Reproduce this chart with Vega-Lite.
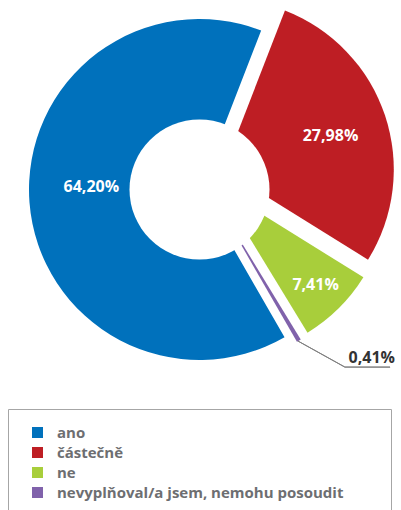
{
  "$schema": "https://vega.github.io/schema/vega-lite/v6.json",
  "padding": 0,
  "background": "white",
  "data": {
    "values": [
      {"cat": "ano", "pct": 64.20, "label": "64,20%", "ord": 4},
      {"cat": "částečně", "pct": 27.98, "label": "27,98%", "ord": 1},
      {"cat": "ne", "pct": 7.41, "label": "7,41%", "ord": 2},
      {"cat": "nevyplňoval/a jsem, nemohu posoudit", "pct": 0.41, "label": "0,41%", "ord": 3}
    ]
  },
  "spacing": 30,
  "center": true,
  "bounds": "flush",
  "vconcat": [
    {
      "width": 399,
      "height": 379,
      "layer": [
        {
          "transform": [
            {"stack": "pct", "groupby": [], "sort": [{"field": "ord"}], "as": ["t0", "t1"]}
          ],
          "encoding": {
            "color": {
              "field": "cat",
              "type": "nominal",
              "scale": {
                "domain": ["ano", "částečně", "ne", "nevyplňoval/a jsem, nemohu posoudit"],
                "range": ["#0071bc", "#be1e24", "#a8ce3b", "#8062ab"]
              },
              "legend": null
            }
          },
          "layer": [
            {
              "transform": [{"filter": "datum.ord === 4"}],
              "mark": {"type": "arc", "radius": 170.5},
              "encoding": {
                "theta": {"field": "t0", "type": "quantitative", "scale": {"domain": [0, 100], "range": [0.370, 6.6532]}},
                "theta2": {"field": "t1"}
              }
            },
            {
              "transform": [{"filter": "datum.ord === 1"}],
              "mark": {"type": "arc", "radius": 170.5, "xOffset": 23.8, "yOffset": -20},
              "encoding": {
                "theta": {"field": "t0", "type": "quantitative", "scale": {"domain": [0, 100], "range": [0.370, 6.6532]}},
                "theta2": {"field": "t1"}
              }
            },
            {
              "transform": [{"filter": "datum.ord === 2"}],
              "mark": {"type": "arc", "radius": 170.5, "xOffset": 19.2, "yOffset": -2.3},
              "encoding": {
                "theta": {"field": "t0", "type": "quantitative", "scale": {"domain": [0, 100], "range": [0.370, 6.6532]}},
                "theta2": {"field": "t1"}
              }
            },
            {
              "transform": [{"filter": "datum.ord === 3"}],
              "mark": {"type": "arc", "radius": 170.5, "xOffset": 12.4, "yOffset": 4.5},
              "encoding": {
                "theta": {"field": "t0", "type": "quantitative", "scale": {"domain": [0, 100], "range": [0.370, 6.6532]}},
                "theta2": {"field": "t1"}
              }
            }
          ]
        },
        {
          "data": {"values": [{"hole": 1}]},
          "mark": {"type": "arc", "radius": 70, "theta": 0, "theta2": 6.2832, "color": "white"},
          "encoding": {}
        },
        {
          "encoding": {
            "theta": {"field": "pct", "type": "quantitative", "stack": true, "scale": {"domain": [0, 100], "range": [0.370, 6.6532]}},
            "order": {"field": "ord"},
            "detail": {"field": "cat"}
          },
          "layer": [
            {
              "mark": {"type": "text", "radius": 108.5, "dy": -10.5, "fontSize": 16, "fontWeight": "bold", "color": "white"},
              "encoding": {
                "text": {"condition": {"test": "datum.ord === 4", "field": "label", "type": "nominal"}, "value": ""}
              }
            },
            {
              "mark": {"type": "text", "radius": 113, "dy": 2, "xOffset": 23.8, "yOffset": -20, "fontSize": 16, "fontWeight": "bold", "color": "white"},
              "encoding": {
                "text": {"condition": {"test": "datum.ord === 1", "field": "label", "type": "nominal"}, "value": ""}
              }
            },
            {
              "mark": {"type": "text", "radius": 137.7, "xOffset": 19.2, "yOffset": -2.3, "fontSize": 16, "fontWeight": "bold", "color": "white"},
              "encoding": {
                "text": {"condition": {"test": "datum.ord === 2", "field": "label", "type": "nominal"}, "value": ""}
              }
            },
            {
              "mark": {"type": "text", "radius": 190, "dx": 63, "dy": 0.6, "xOffset": 12.4, "yOffset": 4.5, "fontSize": 16, "fontWeight": "bold", "color": "#333333"},
              "encoding": {
                "text": {"condition": {"test": "datum.ord === 3", "field": "label", "type": "nominal"}, "value": ""}
              }
            }
          ]
        },
        {
          "transform": [{"filter": "datum.ord === 3"}],
          "mark": {"type": "arc", "theta": 2.0769, "theta2": 2.0779, "radius": 153.7, "radius2": 100, "xOffset": 11, "yOffset": 103, "filled": false, "color": "#808080", "strokeWidth": 1},
          "encoding": {}
        },
        {
          "transform": [{"filter": "datum.ord === 3"}],
          "mark": {"type": "arc", "theta": 1.5708, "theta2": 1.5718, "radius": 190.5, "radius2": 145.5, "yOffset": 177.5, "filled": false, "color": "#808080", "strokeWidth": 1},
          "encoding": {}
        }
      ]
    },
    {
      "width": 383,
      "height": 110,
      "view": {"stroke": "#a6a6a6", "strokeWidth": 1},
      "encoding": {
        "y": {
          "field": "cat",
          "type": "nominal",
          "scale": {
            "type": "point",
            "padding": 0,
            "domain": ["ano", "částečně", "ne", "nevyplňoval/a jsem, nemohu posoudit"],
            "range": [23.5, 83.5]
          },
          "axis": null
        }
      },
      "layer": [
        {
          "mark": {"type": "square", "size": 121, "filled": true, "opacity": 1},
          "encoding": {
            "x": {"datum": 29.5, "type": "quantitative", "scale": {"domain": [0, 383], "nice": false}, "axis": null},
            "color": {"field": "cat", "type": "nominal", "legend": null}
          }
        },
        {
          "mark": {"type": "text", "align": "left", "baseline": "middle", "fontSize": 15, "fontWeight": "bold", "color": "#6d6e71"},
          "encoding": {
            "x": {"datum": 49, "type": "quantitative"},
            "text": {"field": "cat"}
          }
        }
      ]
    }
  ],
  "config": {
    "view": {"stroke": null},
    "font": "Open Sans"
  }
}
